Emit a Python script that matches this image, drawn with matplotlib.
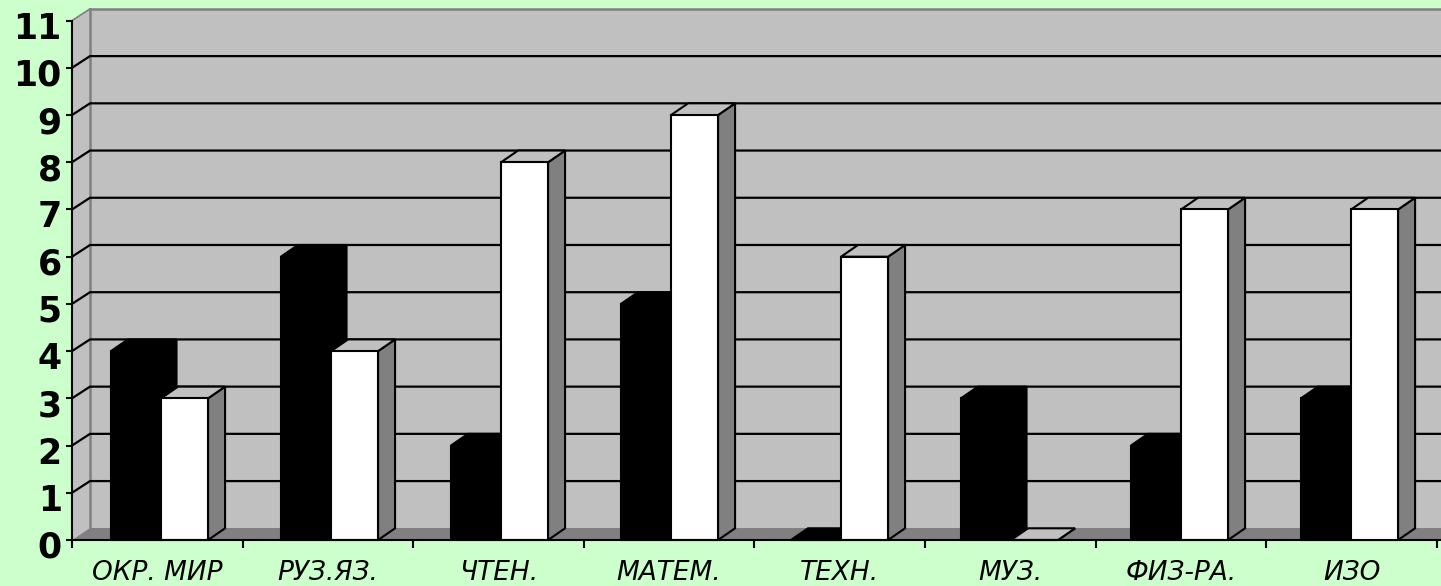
import matplotlib
matplotlib.use("Agg")
import matplotlib.pyplot as plt
from matplotlib.patches import Polygon
from matplotlib.transforms import ScaledTranslation

categories = ["ОКР. МИР", "РУЗ.ЯЗ.", "ЧТЕН.", "МАТЕМ.", "ТЕХН.", "МУЗ.", "ФИЗ-РА.", "ИЗО"]
black_values = [4, 6, 2, 5, 0, 3, 2, 3]
white_values = [3, 4, 8, 9, 6, 0, 7, 7]
y_ticks = list(range(0, 12))

BG = "#CCFFCC"; WALL = "#C0C0C0"; DARK = "#808080"
DX, DY = 0.1055, 0.248
BAR_STEP = 0.9965
W, H = 1441, 586
XMAX = (W - 72) / 170.6

fig = plt.figure(figsize=(W / 100, H / 100), dpi=100, facecolor=BG)
ax = fig.add_axes([72 / W, (H - 540) / H, (W - 72) / W, 519.4 / H], facecolor="none")
ax.set_xlim(0, XMAX)
ax.set_ylim(0, 11)
for s in ("top", "right"):
    ax.spines[s].set_visible(False)
for s in ("left", "bottom"):
    ax.spines[s].set_linewidth(1.5)
    ax.spines[s].set_zorder(20)


def poly(pts, fc, ec="none", lw=0, z=1):
    ax.add_patch(Polygon(pts, closed=True, facecolor=fc, edgecolor=ec, linewidth=lw,
                         zorder=z, clip_on=False, joinstyle="miter"))


# walls and floor
top = 11 + DY
poly([(DX, DY), (XMAX + 1, DY), (XMAX + 1, top), (DX, top)], WALL, z=1)
poly([(0, 0), (DX, DY), (DX, top), (0, 11)], WALL, z=1)
poly([(0, 0), (XMAX + 1, 0), (XMAX + 1, DY), (DX, DY)], DARK, z=2)
ax.plot([DX, DX], [DY, top], color=DARK, lw=1.8, zorder=3, clip_on=False)
ax.plot([0, DX], [11, top], color=DARK, lw=1.2, zorder=3, clip_on=False)
ax.plot([DX, XMAX + 1], [top, top], color=DARK, lw=1.8, zorder=3, clip_on=False)

# gridlines
for v in y_ticks[1:-1]:
    ax.plot([0, DX, XMAX + 1], [v, v + DY, v + DY], color="black", lw=1.6, zorder=4, clip_on=False)


def bar3d(i, offset, width, value, front, topc, side, z):
    x0 = i * BAR_STEP + offset
    x1 = x0 + width
    d = 0.0997
    ec = "black"
    poly([(x1, 0), (x1 + d, DY), (x1 + d, value + DY), (x1, value)], side, ec, 1.5, z)
    poly([(x0, value), (x1, value), (x1 + d, value + DY), (x0 + d, value + DY)], topc, ec, 1.5, z)
    poly([(x0, 0), (x1, 0), (x1, value), (x0, value)], front, ec, 1.5, z + 0.1)


for i, (b, w) in enumerate(zip(black_values, white_values)):
    bar3d(i, 0.228, 0.285, b, "black", "black", "black", 5 + i * 2)
    bar3d(i, 0.522, 0.2755, w, "white", WALL, DARK, 6 + i * 2)

ax.set_yticks(y_ticks)
ax.set_yticklabels([str(v) for v in y_ticks], fontsize=25, fontweight="bold", color="black")
ax.set_xticks(range(0, 9))
ax.set_xticklabels([])
ax.tick_params(axis="y", length=4.3, width=1.5, pad=3)
ax.tick_params(axis="x", length=5.5, width=1.5)
shift = ScaledTranslation(0, -4.5 / 100, fig.dpi_scale_trans)
for lab in ax.get_yticklabels():
    lab.set_transform(lab.get_transform() + shift)
for i, name in enumerate(categories):
    ax.annotate(name, (i + 0.5, 0), xytext=(0, -23.5), textcoords="offset points",
                ha="center", va="center", fontsize=19, fontstyle="italic", color="black",
                annotation_clip=False)

fig.savefig("out.png", dpi=100, facecolor=BG)
